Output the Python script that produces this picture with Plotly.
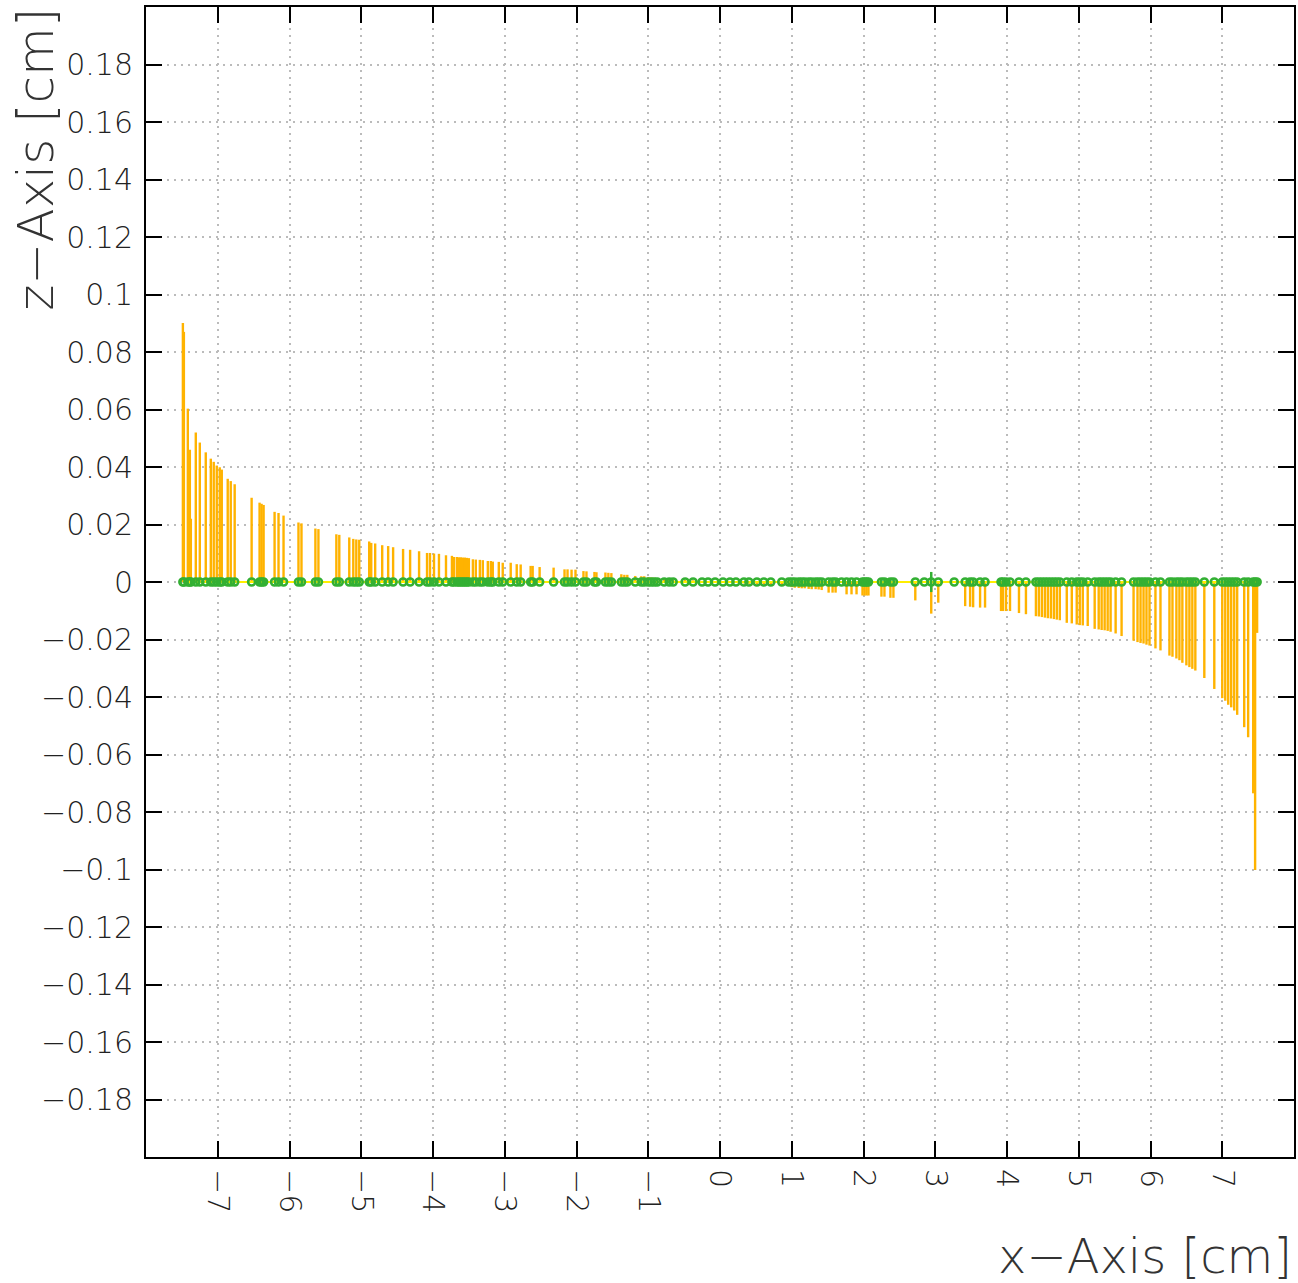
import plotly.graph_objects as go

# Hit positions along x [cm] and their z deflection [cm]
hit_x = [
    -7.486, -7.472, -7.417, -7.389, -7.375, -7.306, -7.25, -7.167, -7.097, -7.056, -7.014,
    -6.972, -6.944, -6.861, -6.819, -6.764, -6.528, -6.417, -6.389, -6.361, -6.208,
    -6.153, -6.083, -5.875, -5.833, -5.639, -5.597, -5.347, -5.306, -5.167, -5.111,
    -5.069, -5.028, -4.889, -4.861, -4.806, -4.708, -4.625, -4.556, -4.417, -4.319,
    -4.194, -4.083, -4.042, -3.986, -3.917, -3.819, -3.736, -3.708, -3.667, -3.639,
    -3.611, -3.583, -3.556, -3.528, -3.5, -3.444, -3.403, -3.347, -3.306, -3.236,
    -3.194, -3.167, -3.083, -3.028, -2.917, -2.833, -2.778, -2.639, -2.611, -2.514,
    -2.319, -2.167, -2.125, -2.069, -2.014, -1.903, -1.861, -1.75, -1.722, -1.597,
    -1.556, -1.514, -1.375, -1.333, -1.292, -1.181, -1.097, -1.056, -1.0, -0.958,
    -0.917, -0.875, -0.778, -0.708, -0.653, -0.486, -0.375, -0.25, -0.167, -0.069,
    0.042, 0.139, 0.222, 0.333, 0.403, 0.514, 0.611, 0.708, 0.861,
    0.958, 1.0, 1.042, 1.097, 1.139, 1.181, 1.236, 1.278, 1.333, 1.375, 1.417,
    1.514, 1.569, 1.611, 1.694, 1.764, 1.833, 1.903, 1.986, 2.014, 2.042, 2.069,
    2.25, 2.292, 2.375, 2.417, 2.722, 2.847, 2.944, 3.042, 3.264, 3.417, 3.486,
    3.528, 3.625, 3.694, 3.917, 3.944, 3.986, 4.042, 4.167, 4.264, 4.403, 4.444,
    4.486, 4.528, 4.569, 4.611, 4.653, 4.694, 4.736, 4.833, 4.903, 4.972, 5.014,
    5.056, 5.125, 5.222, 5.278, 5.319, 5.361, 5.403, 5.444, 5.514, 5.597, 5.764,
    5.819, 5.861, 5.903, 5.944, 5.986, 6.069, 6.139, 6.264, 6.306, 6.361, 6.403,
    6.444, 6.5, 6.542, 6.583, 6.625, 6.75, 6.889, 7.0, 7.042, 7.083, 7.125,
    7.167, 7.208, 7.306, 7.361, 7.431, 7.458, 7.486,
]
hit_z = [
    0.0901, 0.087, 0.0603, 0.046, 0.022, 0.052, 0.0485, 0.0451, 0.0429, 0.0418, 0.0405,
    0.0399, 0.0391, 0.0359, 0.0351, 0.034, 0.0293, 0.0276, 0.0272, 0.0268, 0.0244,
    0.024, 0.0231, 0.0207, 0.0204, 0.0186, 0.0184, 0.0166, 0.0164, 0.0155, 0.015,
    0.0148, 0.0147, 0.0141, 0.0136, 0.0134, 0.0128, 0.0125, 0.0121, 0.0115, 0.0112,
    0.0107, 0.0101, 0.0101, 0.0099, 0.0098, 0.0093, 0.0091, 0.0087, 0.0087, 0.0086,
    0.0086, 0.0085, 0.0085, 0.0084, 0.0083, 0.0079, 0.0078, 0.0077, 0.0076, 0.0073,
    0.0073, 0.0071, 0.007, 0.0067, 0.0067, 0.0062, 0.0061, 0.0056, 0.0056, 0.0052,
    0.005, 0.0044, 0.0044, 0.0043, 0.0043, 0.0038, 0.0037, 0.0035, 0.0034, 0.0033,
    0.0032, 0.0031, 0.0027, 0.0025, 0.0025, 0.0021, 0.002, 0.002, 0.0017, 0.0016,
    0.0015, 0.0013, 0.0012, 0.0012, 0.001, 0.0007, 0.0006, 0.0004, 0.0003, 0.0001,
    -0.0001, -0.0002, -0.0003, -0.0005, -0.0006, -0.0007, -0.0009, -0.001, -0.0012,
    -0.0014, -0.0018, -0.002, -0.0021, -0.0022, -0.0022, -0.0024, -0.0025, -0.0025, -0.0026, -0.0028,
    -0.0037, -0.0037, -0.0037, -0.0002, -0.0043, -0.0043, -0.0043, -0.0047, -0.0047, -0.0047, -0.0047,
    -0.0051, -0.0051, -0.0055, -0.0055, -0.0064, -0.0003, -0.011, -0.0072, -0.0003, -0.0084, -0.0086,
    -0.0088, -0.0089, -0.0089, -0.0101, -0.0101, -0.0101, -0.0101, -0.0108, -0.0112, -0.0119, -0.012,
    -0.0122, -0.0124, -0.0126, -0.0127, -0.0129, -0.0131, -0.0133, -0.0142, -0.0144, -0.0148, -0.015,
    -0.0151, -0.0153, -0.0163, -0.0165, -0.0167, -0.0168, -0.017, -0.0173, -0.0179, -0.0188, -0.0204,
    -0.0209, -0.0212, -0.0214, -0.0218, -0.0221, -0.0231, -0.0238, -0.0256, -0.026, -0.0266, -0.0272,
    -0.0281, -0.029, -0.0296, -0.0302, -0.0308, -0.0334, -0.0372, -0.0404, -0.0413, -0.0427, -0.0436,
    -0.0447, -0.0462, -0.0505, -0.054, -0.0735, -0.1002, -0.0177,
]
# Vertical uncertainty of the hit near x = 2.94 cm
hit_err_x = [2.944]
hit_err = [0.0035]

x_tickvals = [-7, -6, -5, -4, -3, -2, -1, 0, 1, 2, 3, 4, 5, 6, 7]
x_ticktext = ["−7", "−6", "−5", "−4", "−3", "−2", "−1", "0", "1", "2", "3", "4", "5", "6", "7"]
y_tickvals = [-0.18, -0.16, -0.14, -0.12, -0.1, -0.08, -0.06, -0.04, -0.02, 0,
              0.02, 0.04, 0.06, 0.08, 0.1, 0.12, 0.14, 0.16, 0.18]
y_ticktext = ["−0.18", "−0.16", "−0.14", "−0.12", "−0.1", "−0.08", "−0.06", "−0.04", "−0.02", "0",
              "0.02", "0.04", "0.06", "0.08", "0.1", "0.12", "0.14", "0.16", "0.18"]

FONT = "DejaVu Sans"
ORANGE = "#FFB300"
GREEN = "#33B033"
YELLOW = "#FFEE00"

# build vertical segments from the hit arrays
seg_x, seg_z = [], []
for xv, zv in zip(hit_x, hit_z):
    seg_x += [xv, xv, None]
    seg_z += [0, zv, None]

err_arr = [0.0] * len(hit_x)
for ex, ev in zip(hit_err_x, hit_err):
    idx = min(range(len(hit_x)), key=lambda i: abs(hit_x[i] - ex))
    err_arr[idx] = ev

fig = go.Figure()
fig.add_trace(go.Scatter(x=seg_x, y=seg_z, mode="lines",
                         line=dict(color=ORANGE, width=2.4), hoverinfo="skip",
                         showlegend=False))
fig.add_trace(go.Scatter(x=[hit_x[0], hit_x[-1]], y=[0, 0], mode="lines",
                         line=dict(color=YELLOW, width=2), showlegend=False))
fig.add_trace(go.Scatter(x=hit_x, y=[0] * len(hit_x), mode="markers",
                         marker=dict(symbol="circle-open", size=7, color=GREEN,
                                     line=dict(width=2.6, color=GREEN)),
                         error_y=dict(type="data", array=err_arr, visible=True,
                                      color=GREEN, thickness=2.5, width=0),
                         showlegend=False))

axis_common = dict(
    showline=True, linecolor="black", linewidth=2, mirror="ticks",
    ticks="inside", ticklen=16, tickwidth=2, tickcolor="black",
    showgrid=True, gridcolor="#bbbbbb", gridwidth=2, griddash="2px,5px",
    zeroline=False,
    tickfont=dict(family=FONT, size=30, color="#222222", weight=200),
)

fig.update_xaxes(range=[-8, 8], tickvals=x_tickvals, ticktext=x_ticktext,
                 tickangle=90, ticklabelstandoff=4, **axis_common)
fig.update_yaxes(range=[-0.2, 0.2], tickvals=y_tickvals, ticktext=y_ticktext,
                 ticklabelstandoff=5, **axis_common)

W, H = 1298, 1283
L, R, T, B = 146, 2, 7, 126
pw, ph = W - L - R, H - T - B

fig.add_annotation(text="z−Axis [cm]", xref="paper", yref="paper",
                   x=(36 - L) / pw, y=(H - B - 6) / ph, xanchor="center", yanchor="top",
                   textangle=-90, showarrow=False,
                   font=dict(family=FONT, size=50, color="#333333", weight=200))
fig.add_annotation(text="x−Axis [cm]", xref="paper", yref="paper",
                   x=(1296 - L) / pw, y=-(1256 - (T + ph)) / ph, xanchor="right", yanchor="middle",
                   showarrow=False,
                   font=dict(family=FONT, size=48, color="#333333", weight=200))

fig.update_layout(width=W, height=H,
                  margin=dict(l=L, r=R, t=T, b=B),
                  paper_bgcolor="white", plot_bgcolor="white")

fig.write_html("out.html", config={"displayModeBar": False},
               post_script="document.body.style.margin='0';document.body.style.overflow='hidden';")
